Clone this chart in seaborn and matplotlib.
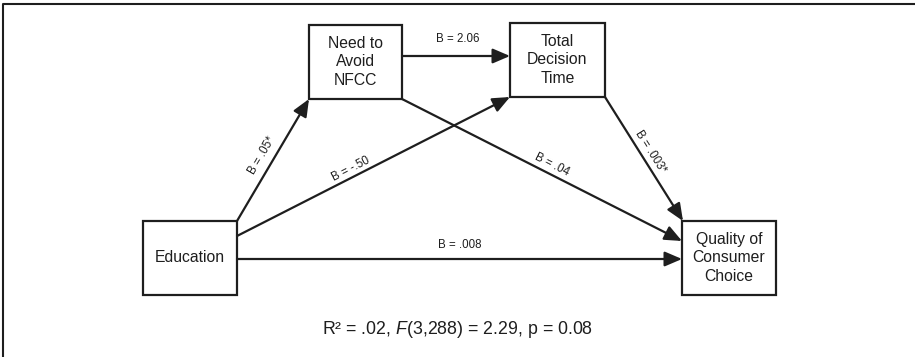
import numpy as np
import matplotlib
matplotlib.use("Agg")
import matplotlib.pyplot as plt
import seaborn as sns
from matplotlib.patches import Rectangle, FancyArrowPatch

# path model: variables and regression coefficients
nodes = ["Education", "Need to\nAvoid\nNFCC", "Total\nDecision\nTime", "Quality of\nConsumer\nChoice"]
path_from = [0, 0, 0, 1, 1, 2]
path_to = [1, 2, 3, 2, 3, 3]
coefs = ["B = .05*", "B = -.50", "B = .008", "B = 2.06", "B = .04", "B = .003*"]
model_fit = "R\u00b2 = .02, $F$(3,288) = 2.29, p = 0.08"

sns.set_theme(style="white")
plt.rcParams["font.family"] = ["Liberation Sans", "DejaVu Sans"]
plt.rcParams["mathtext.fontset"] = "custom"
plt.rcParams["mathtext.rm"] = "Liberation Sans"
plt.rcParams["mathtext.it"] = "Liberation Sans:italic"

ink = "#1e1e1e"

# layout in pixel units (x, y top-left, w, h)
boxes = [(143, 221, 94, 74), (309, 25, 93, 74), (510, 23, 95, 74), (682, 221, 94, 74)]
starts = [(237, 221), (237, 236), (237, 259), (402, 56), (402, 99), (605, 97)]
ends = [(309, 99), (510, 97), (682, 259), (510, 56), (682, 241), (683, 221)]
label_t = [0.49, 0.43, 0.5, 0.52, 0.52, 0.48]
label_off = [12, 8, 14, 17, 9, 9]

fig = plt.figure(figsize=(9.15, 3.57), dpi=100)
ax = fig.add_axes([0, 0, 1, 1])
ax.set_xlim(0, 915)
ax.set_ylim(357, 0)
ax.axis("off")

# frame (top and left edges only)
ax.plot([3, 3, 915], [357, 4, 4], color=ink, lw=1.5, solid_capstyle="butt")

for (x, y, w, h), name in zip(boxes, nodes):
    ax.add_patch(Rectangle((x, y), w, h, fill=False, ec=ink, lw=1.6))
    ax.text(x + w / 2, y + h / 2, name, ha="center", va="center",
            fontsize=11.3, color=ink, linespacing=1.3)

for i in range(len(coefs)):
    (x1, y1), (x2, y2) = starts[i], ends[i]
    arr = FancyArrowPatch((x1, y1), (x2, y2), arrowstyle="-|>,head_length=0.7,head_width=0.3",
                          mutation_scale=15, color=ink, lw=1.6, shrinkA=0, shrinkB=0)
    ax.add_patch(arr)
    dx, dy = x2 - x1, y2 - y1
    L = np.hypot(dx, dy)
    ux, uy = dx / L, dy / L
    nx, ny = uy, -ux
    t = label_t[i]
    px = x1 + dx * t + nx * label_off[i]
    py = y1 + dy * t + ny * label_off[i]
    ang = np.degrees(np.arctan2(-dy, dx))
    ax.text(px, py, coefs[i], ha="center", va="center", rotation=ang,
            rotation_mode="anchor", fontsize=8.3, color=ink)

ax.text(458, 330, model_fit, ha="center", va="center", fontsize=12.8, color=ink)

fig.savefig("out.png", dpi=100)
